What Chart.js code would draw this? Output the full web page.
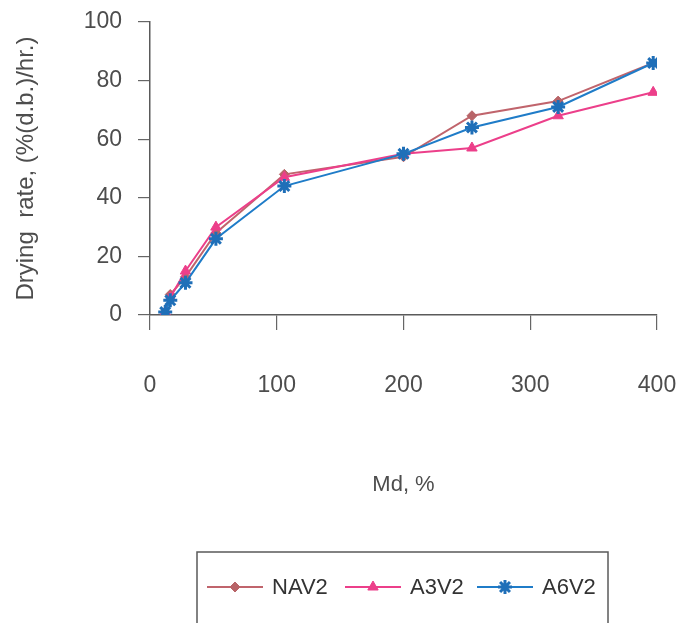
<!DOCTYPE html>
<html>
<head>
<meta charset="utf-8">
<script src="https://cdn.jsdelivr.net/npm/chart.js@4.4.1/dist/chart.umd.min.js"></script>
<style>
  html, body { margin: 0; padding: 0; background: #fff; }
</style>
</head>
<body>
<canvas id="myChart" width="682" height="623"></canvas>
<script>
// moisture content, dry basis (%)
const md = [12, 16, 28, 52, 106, 200, 254, 322, 397];
// drying rate per treatment, %(d.b.)/hr
const nav2 = [1, 7, 13, 28, 48, 54, 68, 73, 86];
const a3v2 = [1, 6, 15, 30, 47, 55, 57, 68, 76];
const a6v2 = [1, 5, 11, 26, 44, 55, 64, 71, 86];

const xTicks = [0, 100, 200, 300, 400];
const yTicks = [0, 20, 40, 60, 80, 100];

const labelFont = { family: "'Liberation Sans', Arial, sans-serif", size: 23 };
const textColor = '#4d4d4d';

function pairs(ys) {
    return md.map((x, i) => ({ x: x, y: ys[i] }));
}

// legend with a frame round it, under the axis title
const boxLegend = {
    id: 'boxLegend',
    afterDraw(chart) {
        const ctx = chart.ctx;
        ctx.save();
        ctx.strokeStyle = '#5a5a5a';
        ctx.lineWidth = 1.5;
        ctx.strokeRect(197, 552, 411, 90);

        const starts = [207, 345, 477];
        const rowY = 587;
        chart.data.datasets.forEach((ds, i) => {
            const x0 = starts[i];
            ctx.strokeStyle = ds.borderColor;
            ctx.fillStyle = ds.pointBackgroundColor;
            ctx.lineWidth = 2;
            ctx.beginPath();
            ctx.moveTo(x0, rowY);
            ctx.lineTo(x0 + 56, rowY);
            ctx.stroke();
            if (Chart.helpers && Chart.helpers.drawPoint) {
                ctx.strokeStyle = ds.pointBorderColor;
                ctx.lineWidth = ds.pointBorderWidth;
                Chart.helpers.drawPoint(ctx, {
                    pointStyle: ds.pointStyle,
                    radius: ds.pointRadius,
                    rotation: 0,
                    borderWidth: ds.pointBorderWidth
                }, x0 + 28, rowY);
            }
            ctx.fillStyle = '#333';
            ctx.font = "22px 'Liberation Sans', Arial, sans-serif";
            ctx.textBaseline = 'middle';
            ctx.fillText(ds.label, x0 + 65, rowY + 1);
        });
        ctx.restore();
    }
};

const ctx = document.getElementById('myChart').getContext('2d');
const myChart = new Chart(ctx, {
    type: 'line',
    data: {
        datasets: [{
            label: 'NAV2',
            data: pairs(nav2),
            borderColor: '#c0646c',
            pointBackgroundColor: '#b86468',
            pointBorderColor: '#b86468',
            pointStyle: 'rectRot',
            pointRadius: 5,
            pointBorderWidth: 1,
            borderWidth: 2,
            order: 2
        }, {
            label: 'A3V2',
            data: pairs(a3v2),
            borderColor: '#ec3f8a',
            pointBackgroundColor: '#ec3f8a',
            pointBorderColor: '#ec3f8a',
            pointStyle: 'triangle',
            pointRadius: 6,
            pointBorderWidth: 1,
            borderWidth: 2,
            order: 1
        }, {
            label: 'A6V2',
            data: pairs(a6v2),
            borderColor: '#1f7cc8',
            pointBackgroundColor: '#1f7cc8',
            pointBorderColor: '#1f6fb8',
            pointStyle: 'star',
            pointRadius: 7,
            pointBorderWidth: 3,
            borderWidth: 2,
            order: 0
        }]
    },
    options: {
        responsive: false,
        animation: false,
        layout: { padding: { top: 22, right: 25, left: 0, bottom: 100 } },
        elements: { line: { tension: 0 } },
        plugins: {
            legend: { display: false },
            tooltip: { enabled: false }
        },
        scales: {
            x: {
                type: 'linear',
                min: 0,
                max: 400,
                afterBuildTicks: s => { s.ticks = xTicks.map(v => ({ value: v })); },
                afterFit: s => {
                    s.height = 208;
                    s.paddingLeft = 0;
                    s.paddingRight = 0;
                },
                grid: { drawOnChartArea: false, drawTicks: true, tickLength: 15, color: '#666', lineWidth: 1.2 },
                border: { display: true, color: '#5a5a5a', width: 1.5 },
                ticks: { font: labelFont, color: textColor, padding: 42 },
                title: {
                    display: true,
                    text: 'Md, %',
                    font: { family: labelFont.family, size: 22 },
                    color: textColor,
                    padding: { top: 0, bottom: 25 }
                }
            },
            y: {
                min: 0,
                max: 100,
                afterBuildTicks: s => { s.ticks = yTicks.map(v => ({ value: v })); },
                afterFit: s => {
                    s.width = 150;
                    s.paddingTop = 0;
                    s.paddingBottom = 0;
                },
                grid: { drawOnChartArea: false, drawTicks: true, tickLength: 12, color: '#666', lineWidth: 1.2 },
                border: { display: true, color: '#5a5a5a', width: 1.5 },
                ticks: { font: labelFont, color: textColor, padding: 16 },
                title: {
                    display: true,
                    text: 'Drying  rate, (%(d.b.)/hr.)',
                    font: { family: labelFont.family, size: 24 },
                    color: textColor,
                    padding: { top: 12, bottom: 0 }
                }
            }
        }
    },
    plugins: [boxLegend]
});
</script>
</body>
</html>
